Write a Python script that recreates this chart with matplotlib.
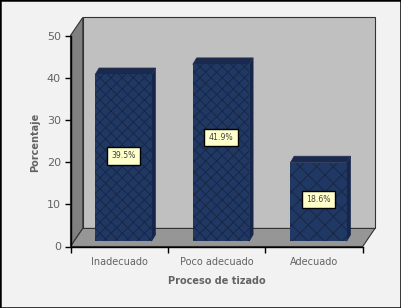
import matplotlib
matplotlib.use('Agg')
import matplotlib.pyplot as plt
from matplotlib.patches import Polygon, Rectangle

categories = ['Inadecuado', 'Poco adecuado', 'Adecuado']
values = [39.5, 41.9, 18.6]
labels = ['39.5%', '41.9%', '18.6%']
label_y = [21.5, 25.8, 11.1]

W, H = 401, 308
NAVY = '#1F3864'
TEXT = '#636363'

plt.rcParams['hatch.linewidth'] = 0.6
plt.rcParams['hatch.color'] = '#1a2540'

fig = plt.figure(figsize=(W / 100, H / 100), dpi=100, facecolor='#F2F2F2')
fig.add_artist(Rectangle((0, 0), 1, 1, transform=fig.transFigure, fill=False,
                         ec='black', lw=1.8))

ax = fig.add_axes([70.5 / W, 1 - 246.5 / H, 292.2 / W, 211 / H])
ax.set_xlim(0, 3)
ax.set_ylim(0, 50)
ax.patch.set_visible(False)
for s in ['top', 'right']:
    ax.spines[s].set_visible(False)
for s in ['left', 'bottom']:
    ax.spines[s].set_linewidth(1.0)
    ax.spines[s].set_color('black')

# fake 3d depth, in data units
dx = 0.126
dy = 4.28


def poly(pts, fc, ec='#333333', lw=0.8, z=1):
    ax.add_patch(Polygon(pts, closed=True, fc=fc, ec=ec, lw=lw, zorder=z,
                         clip_on=False, joinstyle='miter'))


poly([(dx, dy), (3 + dx, dy), (3 + dx, 50 + dy), (dx, 50 + dy)], '#C0C0C0')
poly([(0, 0), (dx, dy), (dx, 50 + dy), (0, 50)], '#808080')
poly([(0, 0), (3, 0), (3 + dx, dy), (dx, dy)], '#969696')

# bars
base = 1.26
bar_w = 0.58
bdx = 0.04
bdy = 1.54
centers = [0.543, 1.545, 2.546]
hatches = ['xxx', 'xxx', 'xx']
for c, v in zip(centers, values):
    l, r = c - bar_w / 2, c + bar_w / 2
    top = base + v
    poly([(r, base), (r + bdx, base + bdy), (r + bdx, top + bdy), (r, top)],
         '#16264A', ec='#16264A', lw=0.4, z=3)
    poly([(l, top), (r, top), (r + bdx, top + bdy), (l + bdx, top + bdy)],
         '#1A2A4E', ec='#2a3553', lw=0.5, z=3)
ax.bar(centers, values, width=bar_w, bottom=base, color=NAVY,
       edgecolor='#1a2540', hatch=hatches, linewidth=0, zorder=4)

for c, y, t in zip(centers, label_y, labels):
    ax.text(c, y, t, ha='center', va='center', fontsize=5.6, color='#404040',
            zorder=6, bbox=dict(boxstyle='square,pad=0.55', fc='#FFFFCC',
                                ec='black', lw=1.0))

ax.set_yticks([0, 10, 20, 30, 40, 50])
ax.set_xticks([0, 1, 2, 3])
ax.set_xticklabels([])
ax.tick_params(axis='both', length=4, width=1.0, color='black',
               labelcolor=TEXT, labelsize=8)
ax.tick_params(axis='y', pad=3)
for c, t in zip([0.5, 1.5, 2.5], categories):
    ax.annotate(t, (c, 0), xytext=(0, -7.5), textcoords='offset points',
                ha='center', va='top', fontsize=7, color=TEXT,
                annotation_clip=False)

ax.set_ylabel('Porcentaje', fontsize=7, fontweight='bold', color=TEXT)
ax.yaxis.set_label_coords(-30 / 292.2, 0.495)
ax.set_xlabel('Proceso de tizado', fontsize=7, fontweight='bold', color=TEXT)
ax.xaxis.set_label_coords(146 / 292.2, -29 / 211)

fig.savefig('out.png', dpi=100, facecolor=fig.get_facecolor())
